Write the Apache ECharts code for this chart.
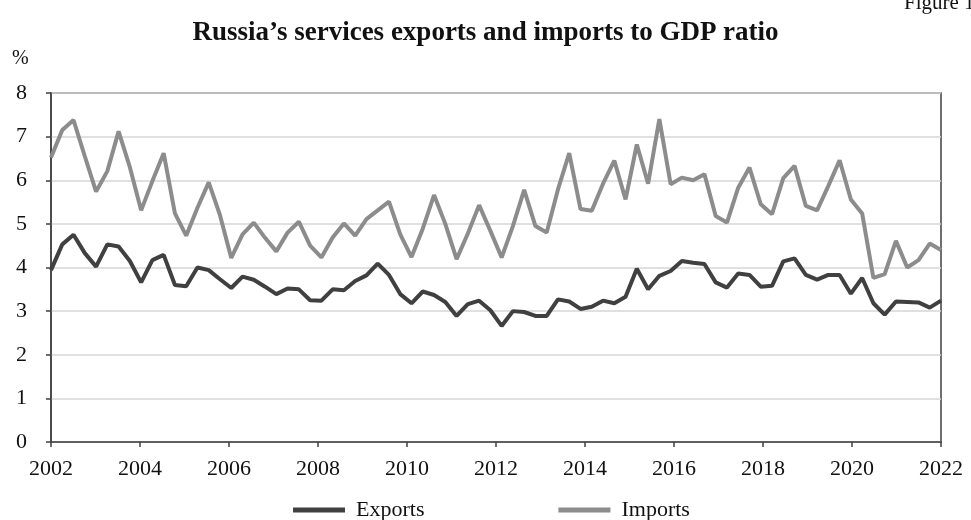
<!DOCTYPE html>
<html>
<head>
<meta charset="utf-8">
<script src="https://cdn.jsdelivr.net/npm/echarts@6/dist/echarts.min.js"></script>
<style>
  html, body { margin: 0; padding: 0; background: #fff; }
  #main { width: 971px; height: 520px; }
</style>
</head>
<body>
<div id="main"></div>
<script>
// quarterly, 2002Q1 .. 2021Q4, % of GDP
var exportsData = [
  3.94, 4.53, 4.75, 4.33, 4.02, 4.53, 4.48, 4.15, 3.66, 4.17, 4.29, 3.60, 3.57, 4.00, 3.94,
  3.73, 3.53, 3.79, 3.72, 3.56, 3.39, 3.52, 3.50, 3.25, 3.24, 3.50, 3.48, 3.69, 3.82,
  4.09, 3.83, 3.39, 3.18, 3.45, 3.37, 3.21, 2.89, 3.16, 3.24, 3.02, 2.66,
  3.00, 2.98, 2.89, 2.89, 3.27, 3.22, 3.05, 3.10, 3.24, 3.18, 3.33, 3.97, 3.50, 3.81, 3.92,
  4.15, 4.11, 4.08, 3.66, 3.54, 3.86, 3.83, 3.56, 3.58, 4.14, 4.21,
  3.83, 3.72, 3.83, 3.83, 3.40, 3.76, 3.18, 2.92, 3.22, 3.21, 3.20, 3.08, 3.24
];
var importsData = [
  6.52, 7.15, 7.38, 6.55, 5.74, 6.21, 7.12, 6.30, 5.31, 5.98, 6.62, 5.24, 4.73, 5.37, 5.95,
  5.20, 4.22, 4.76, 5.03, 4.68, 4.37, 4.80, 5.05, 4.50, 4.23, 4.69, 5.01, 4.73, 5.11,
  5.31, 5.51, 4.76, 4.24, 4.89, 5.66, 5.00, 4.19, 4.78, 5.43, 4.84, 4.23,
  4.95, 5.78, 4.95, 4.80, 5.79, 6.62, 5.34, 5.30, 5.92, 6.45, 5.56, 6.82, 5.92, 7.40, 5.91,
  6.06, 6.00, 6.14, 5.18, 5.03, 5.83, 6.29, 5.45, 5.22, 6.05, 6.33,
  5.41, 5.31, 5.87, 6.46, 5.56, 5.24, 3.76, 3.85, 4.61, 4.00, 4.17, 4.55, 4.40
];
var yearLabels = ['2002', '2004', '2006', '2008', '2010', '2012', '2014', '2016', '2018', '2020', '2022'];
var seriesNames = ['Exports', 'Imports'];

var serif = 'Liberation Serif';
var lastIndex = exportsData.length - 1;
var step = lastIndex / (yearLabels.length - 1);

function toPairs(arr) {
  return arr.map(function (v, i) { return [i, v]; });
}

var myChart = echarts.init(document.getElementById('main'));
var option = {
  backgroundColor: '#FFFFFF',
  animation: false,
  title: {
    text: 'Russia\u2019s services exports and imports to GDP ratio',
    left: 'center',
    top: 15,
    textStyle: {
      fontFamily: serif,
      fontSize: 27,
      fontWeight: 'bold',
      color: '#111'
    }
  },
  graphic: [
    {
      type: 'text',
      left: 904,
      top: -7,
      style: { text: 'Figure 1', font: '21px "Liberation Serif"', fill: '#111' }
    },
    {
      type: 'text',
      left: 12,
      top: 49,
      style: { text: '%', font: '20px "Liberation Serif"', fill: '#111' }
    }
  ],
  legend: {
    data: seriesNames,
    left: 288,
    top: 494,
    icon: 'rect',
    itemWidth: 52,
    itemHeight: 5,
    itemGap: 134,
    textStyle: {
      fontFamily: serif,
      fontSize: 22,
      color: '#111',
      padding: [0, 0, 0, 6]
    }
  },
  grid: {
    left: 51,
    right: 30,
    top: 93,
    bottom: 78,
    show: true,
    borderColor: '#404040',
    borderWidth: 1.5
  },
  xAxis: {
    type: 'value',
    min: 0,
    max: lastIndex,
    interval: step,
    axisLine: { show: true, lineStyle: { color: '#404040', width: 1.5 } },
    axisTick: { show: true, inside: false, length: 5, lineStyle: { color: '#404040', width: 1.5 } },
    splitLine: { show: false },
    axisLabel: {
      margin: 16,
      fontFamily: serif,
      fontSize: 22,
      color: '#111',
      formatter: function (v) {
        return yearLabels[Math.round(v / step)] || '';
      }
    }
  },
  yAxis: {
    type: 'value',
    min: 0,
    max: 8,
    interval: 1,
    axisLine: { show: true, lineStyle: { color: '#404040', width: 1.5 } },
    axisTick: { show: true, inside: false, length: 5, lineStyle: { color: '#404040', width: 1.5 } },
    splitLine: { show: true, lineStyle: { color: '#d6d6d6', width: 1.5 } },
    axisLabel: {
      margin: 24,
      fontFamily: serif,
      fontSize: 22,
      color: '#111'
    }
  },
  series: [
    {
      name: 'Exports',
      type: 'line',
      data: toPairs(exportsData),
      showSymbol: false,
      color: '#404040',
      lineStyle: { width: 4, color: '#404040' },
      z: 3
    },
    {
      name: 'Imports',
      type: 'line',
      data: toPairs(importsData),
      showSymbol: false,
      color: '#8c8c8c',
      lineStyle: { width: 4, color: '#8c8c8c' },
      z: 2
    }
  ]
};
myChart.setOption(option);
window.addEventListener('resize', function () {
  myChart.resize();
});
</script>
</body>
</html>
